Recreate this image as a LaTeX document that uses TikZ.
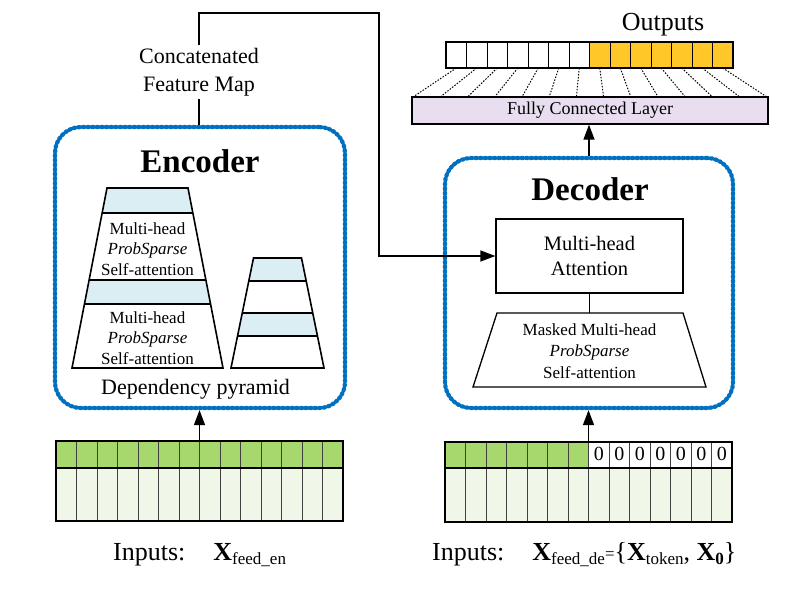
\documentclass[tikz,border=0pt]{standalone}
\usepackage{fontspec}
\setmainfont{Liberation Serif}
\usetikzlibrary{arrows.meta,calc}
\definecolor{bordblue}{RGB}{0,112,192}
\definecolor{bandblue}{RGB}{218,238,243}
\definecolor{greenA}{RGB}{166,216,110}
\definecolor{greenB}{RGB}{240,247,232}
\definecolor{yell}{RGB}{255,200,40}
\definecolor{lav}{RGB}{232,222,240}
\newcommand\mysubf{\fontsize{17}{20}\selectfont}
\begin{document}
\begin{tikzpicture}[x=1pt,y=-1pt,
  blk/.style={draw=bordblue,line width=4.2pt,dash pattern=on 1.6pt off 3pt,line cap=round,rounded corners=26pt,inner sep=0pt},
  arr/.style={line width=1.3pt,-{Triangle[length=15pt,width=11pt]}},
  ln/.style={line width=1.3pt},
  pyr/.style={draw=black,line width=1.6pt,line join=miter},
  celline/.style={line width=0.8pt,draw=black!75},
  tA/.style={font=\fontsize{17}{20.5}\selectfont},
  tB/.style={font=\fontsize{22}{28}\selectfont},
  tBig/.style={font=\fontsize{26}{30}\selectfont},
  ttl/.style={font=\fontsize{33}{36}\selectfont\bfseries},
  grid/.style={draw=black,line width=1.6pt,inner sep=0pt,minimum width=287pt}
]
\useasboundingbox (0,0) rectangle (799,590);

% ---------------- Encoder ----------------
\node[blk,minimum width=290pt,minimum height=281pt] (enc) at (200,267.5) {};
\node[ttl,anchor=base] (enct) at (200,172) {Encoder};

% big pyramid
\fill[bandblue] (107,188) -- (188,188) -- (192.9,213) -- (102.1,213) -- cycle;
\fill[bandblue] (89.1,280) -- (205.9,280) -- (210.6,304) -- (84.4,304) -- cycle;
\draw[pyr] (107,188) -- (188,188) -- (223,368) -- (72,368) -- cycle;
\draw[pyr] (102.1,213) -- (192.9,213) (89.1,280) -- (205.9,280) (84.4,304) -- (210.6,304);
\node[tA,align=center] (pa) at (147.5,249) {Multi-head\\\textit{ProbSparse}\\Self-attention};
\node[tA,align=center] (pb) at (147.5,338) {Multi-head\\\textit{ProbSparse}\\Self-attention};

% small pyramid
\fill[bandblue] (253.5,258) -- (301.5,258) -- (306.2,281) -- (248.8,281) -- cycle;
\fill[bandblue] (242.25,313) -- (312.75,313) -- (317.45,336) -- (237.55,336) -- cycle;
\draw[pyr] (253.5,258) -- (301.5,258) -- (324,368) -- (231,368) -- cycle;
\draw[pyr] (248.8,281) -- (306.2,281) (242.25,313) -- (312.75,313) (237.55,336) -- (317.45,336);

\node[tB,anchor=base] (dep) at (195.5,394) {Dependency pyramid};

% ---------------- Decoder ----------------
\node[blk,minimum width=288pt,minimum height=250pt] (dec) at (589,283) {};
\node[ttl,anchor=base] (dect) at (590,200) {Decoder};
\node[draw,ln,minimum width=187pt,minimum height=74pt,align=center,font=\fontsize{20.5}{25}\selectfont] (att) at (589.5,256) {Multi-head\\Attention};
\draw[ln,line join=miter] (497,313) -- (683,313) -- (706,387) -- (473,387) -- cycle;
\coordinate (mtop) at (589.5,313);
\node[tA,align=center,font=\fontsize{17}{21.5}\selectfont] (msk) at (589.5,351) {Masked Multi-head\\\textit{ProbSparse}\\Self-attention};
\draw[ln] (att.south) -- (mtop);

% ---------------- Output side ----------------
\node[draw,ln,fill=lav,minimum width=356pt,minimum height=27pt,inner sep=0pt,font=\fontsize{18}{20}\selectfont] (fc) at (590,110.5) {Fully Connected Layer};
\fill[yell] (589.5,42) rectangle (733,68);
\foreach \i in {1,...,13} \draw[line width=1pt] ({446+20.5*\i},42) -- ({446+20.5*\i},68);
\node[draw,line width=1.6pt,minimum width=287pt,minimum height=26pt,inner sep=0pt] (outrow) at (589.5,55) {};
\foreach \k in {0,...,13} \draw[dash pattern=on 1.5pt off 1.5pt,line width=1pt] ({456.25+20.5*\k},68) -- ({413+354/13*\k},97);
\node[tBig,anchor=base] (outl) at (663,30) {Outputs};

% ---------------- Input grids ----------------
\fill[greenA] (56,441) rectangle (343,468);
\fill[greenB] (56,468) rectangle (343,521);
\foreach \i in {1,...,13} \draw[celline] ({56+20.5*\i},441) -- ({56+20.5*\i},521);
\draw[line width=1.6pt] (56,468) -- (343,468);
\node[grid,minimum height=80pt] (engrid) at (199.5,481) {};

\fill[greenA] (445,442) rectangle (588.5,468);
\fill[greenB] (445,468) rectangle (732,522);
\foreach \i in {1,...,13} \draw[celline] ({445+20.5*\i},442) -- ({445+20.5*\i},522);
\draw[line width=1.6pt] (445,468) -- (732,468);
\foreach \i in {7,...,13} \node[font=\fontsize{20}{22}\selectfont,anchor=base,inner sep=0pt] (z\i) at ({455.25+20.5*\i},460) {0};
\node[grid,minimum height=80pt] (degrid) at (588.5,482) {};

% ---------------- Connectors ----------------
\draw[arr] (engrid.north) -- (engrid.north |- enc.south);
\draw[arr] (degrid.north) -- (degrid.north |- dec.south);
\draw[arr] (dec.north) -- (dec.north |- fc.south);

\node[tB,align=center,inner sep=3pt] (cat) at (199,72) {Concatenated\\Feature Map};
\draw[ln] (cat.south |- enc.north) -- (cat.south);
\coordinate (c1) at (199,13);
\coordinate (c2) at (379,13);
\draw[arr,line join=miter] (cat.north) -- (c1) -- (c2) -- (c2 |- att.west) -- (att.west);

% ---------------- Input labels ----------------
\node[tBig,anchor=base west,inner sep=0pt] (inen) at (113,560) {Inputs:\hspace{28pt}\textbf{X}\raisebox{-4pt}{\mysubf feed\_en}};
\node[tBig,anchor=base west,inner sep=0pt] (inde) at (432,560) {Inputs:\hspace{28pt}\textbf{X}\raisebox{-4pt}{\mysubf feed\_de}\raisebox{1pt}{\mysubf =}\{\textbf{X}\raisebox{-4pt}{\mysubf token}, \textbf{X}\raisebox{-4pt}{\mysubf\bfseries 0}\}};
\end{tikzpicture}
\end{document}
